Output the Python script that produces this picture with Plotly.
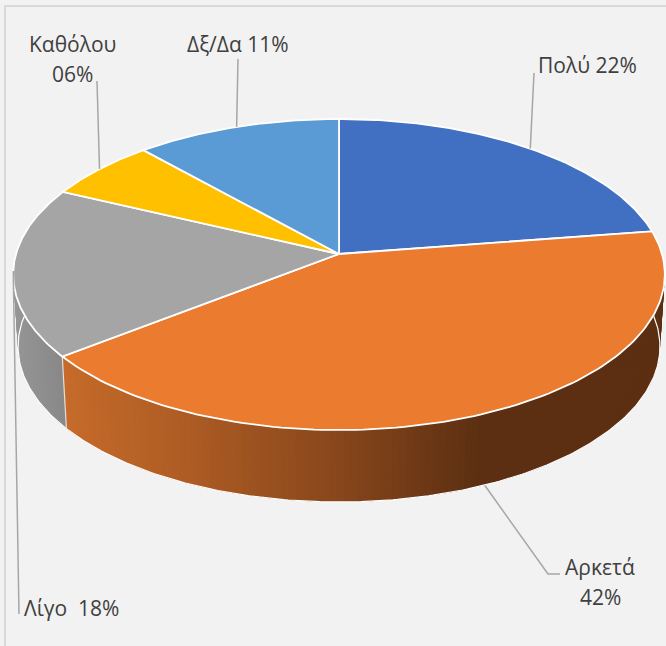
import numpy as np
import plotly.graph_objects as go

categories = ["Πολύ", "Αρκετά", "Λίγο", "Καθόλου", "Δξ/Δα"]
values = [22.4, 41.5, 17.5, 6.3, 11.49]
top_colors = ["#4170c2", "#ea7b2f", "#a5a5a5", "#ffc000", "#5b9bd5"]
label_lines = [["Πολύ 22%"], ["Αρκετά", "42%"], ["Λίγο  18%"], ["Καθόλου", "06%"], ["Δξ/Δα 11%"]]
label_pos = [[(587, 65)], [(600, 567), (600, 597)], [(71, 608)], [(72, 44), (72, 74)], [(238, 44)]]
leader_tail = [[(534, 73)], [(548, 574), (560, 574)], [(19, 614)], [(97, 81)], [(238, 59)]]

W, H = 666, 646
CX, CY = 339, 254      # apex of the pie on screen
PERSP = -0.1318        # perspective foreshortening of the disc
A, B = 323, 152.8      # disc radii
DEPTH = 72
BG = "#f2f2f2"


def rim(theta, dy=0.0, sx=1.0):
    u = -np.cos(theta)
    s = np.sin(theta)
    d = 1 + PERSP * u
    return CX + sx * A * s / d, CY + B * u / d + dy


def lerp_color(stops, x):
    xs = [p[0] for p in stops]
    return [float(np.interp(x, xs, [p[1][i] for p in stops])) for i in range(3)]


orange_side = [(62, (198, 107, 42)), (200, (170, 90, 35)), (340, (135, 70, 27)), (480, (92, 47, 18)), (670, (92, 47, 18))]
gray_side = [(13, (150, 150, 150)), (62, (136, 136, 136))]

total = sum(values)
edges = np.cumsum([0] + values) / total * 2 * np.pi
fig = go.Figure()


def add_poly(xs, ys, fill, line_color, width):
    fig.add_trace(go.Scatter(x=xs, y=ys, mode="lines", fill="toself", fillcolor=fill,
                             line=dict(color=line_color, width=width), hoverinfo="skip", showlegend=False))


# side wall, drawn in overlapping strips so the shading varies without seams
for idx, stops in ((2, gray_side), (1, orange_side)):
    t0, t1 = edges[idx], edges[idx + 1]
    grid = np.linspace(t0, t1, 141)
    for j in range(len(grid) - 1):
        a, b = grid[j], grid[min(j + 3, len(grid) - 1)]
        xa, ya = rim(a)
        xb, yb = rim(b)
        xc, yc = rim(b, DEPTH, 0.985)
        xd, yd = rim(a, DEPTH, 0.985)
        r, g, bl = lerp_color(stops, float(rim(grid[j] + (grid[1] - grid[0]) / 2)[0]))
        add_poly([xa, xb, xc, xd, xa], [ya, yb, yc, yd, ya], f"rgb({r:.0f},{g:.0f},{bl:.0f})", "rgba(0,0,0,0)", 0)

# light edge under the wall and between wall segments
grid = np.linspace(edges[1], edges[3], 300)
bx, by = rim(grid, DEPTH, 0.985)
fig.add_trace(go.Scatter(x=bx, y=by, mode="lines", line=dict(color="#ffffff", width=1.2),
                         hoverinfo="skip", showlegend=False))
xa, ya = rim(edges[2])
xb, yb = rim(edges[2], DEPTH, 0.985)
fig.add_trace(go.Scatter(x=[xa, xb], y=[ya, yb], mode="lines", line=dict(color="#e0e0e0", width=1.2),
                         hoverinfo="skip", showlegend=False))

# top face
for i, cat in enumerate(categories):
    grid = np.linspace(edges[i], edges[i + 1], 120)
    x, y = rim(grid)
    add_poly(np.r_[CX, x, CX], np.r_[CY, y, CY], top_colors[i], "#ffffff", 1.8)

# leader lines start on the rim at the middle of each slice
for i, cat in enumerate(categories):
    mid = (edges[i] + edges[i + 1]) / 2
    x0, y0 = rim(mid, DEPTH if cat == "Αρκετά" else 0)
    xs = [float(x0)] + [p[0] for p in leader_tail[i]]
    ys = [float(y0)] + [p[1] for p in leader_tail[i]]
    fig.add_trace(go.Scatter(x=xs, y=ys, mode="lines", line=dict(color="#a6a6a6", width=1.5),
                             hoverinfo="skip", showlegend=False))
    for text, (tx, ty) in zip(label_lines[i], label_pos[i]):
        fig.add_annotation(x=tx, y=ty, text=text, showarrow=False, xanchor="center", yanchor="middle",
                           font=dict(family="Open Sans", size=21, color="#404040"))

fig.update_layout(
    width=W, height=H, margin=dict(l=0, r=0, t=0, b=0), paper_bgcolor=BG, plot_bgcolor=BG,
    showlegend=False,
    xaxis=dict(range=[0, W], visible=False, fixedrange=True),
    yaxis=dict(range=[H, 0], visible=False, fixedrange=True),
    shapes=[dict(type="path", path=f"M 5 {H} L 5 6 L {W} 6", xref="x", yref="y",
                 line=dict(color="#d9d9d9", width=2))],
)
fig.write_html("out.html", config={"displayModeBar": False},
               post_script="document.body.style.margin='0';document.body.style.overflow='hidden';document.body.style.background='#f2f2f2';")
